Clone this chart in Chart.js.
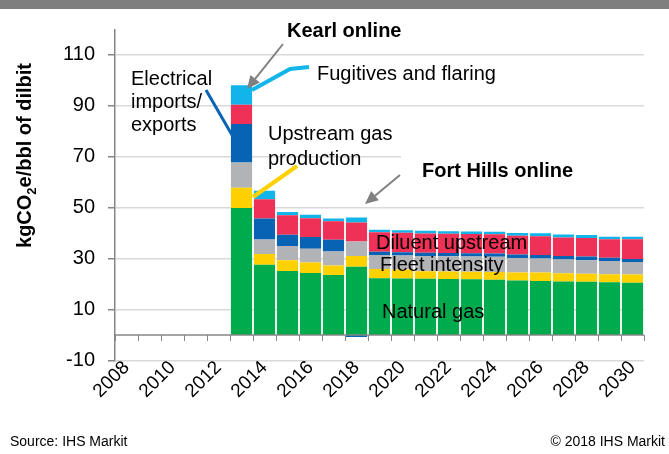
<!DOCTYPE html>
<html>
<head>
<meta charset="utf-8">
<script src="https://cdn.jsdelivr.net/npm/chart.js@4"></script>
<style>
  html,body{margin:0;padding:0;background:#fff;}
  #wrap{position:relative;width:669px;height:454px;}
</style>
</head>
<body>
<div id="wrap"><canvas id="c"></canvas></div>
<script>
// --- dados (kgCO2e/bbl de dilbit) ---
const years = ['2008','2009','2010','2011','2012','2013','2014','2015','2016','2017','2018','2019','2020','2021','2022','2023','2024','2025','2026','2027','2028','2029','2030'];
const yTicks = [-10, 10, 30, 50, 70, 90, 110];
const pre = [null, null, null, null, null];
const naturalGas  = pre.concat([49.9, 27.6, 25.2, 24.4, 23.6, 26.8, 22.3, 22.2, 22.1, 22.0, 21.9, 21.7, 21.4, 21.2, 21.0, 20.9, 20.7, 20.5]);
const upstreamGas = pre.concat([7.9, 4.2, 4.2, 4.1, 3.7, 4.2, 3.6, 3.5, 3.0, 3.0, 3.0, 3.1, 3.2, 3.4, 3.3, 3.2, 3.2, 3.3]);
const fleet       = pre.concat([10.0, 5.7, 5.6, 5.4, 5.5, 5.7, 5.5, 5.5, 5.9, 5.9, 5.9, 5.9, 5.7, 5.5, 5.4, 5.3, 5.2, 4.9]);
const electrical  = pre.concat([15.1, 8.3, 4.4, 4.6, 4.6, -0.8, 1.3, 1.3, 1.3, 1.3, 1.3, 1.3, 1.3, 1.3, 1.3, 1.4, 1.3, 1.2]);
const diluent     = pre.concat([7.5, 7.5, 7.6, 7.4, 7.3, 7.5, 7.7, 7.7, 7.6, 7.6, 7.6, 7.6, 7.4, 7.4, 7.3, 7.3, 7.2, 7.7]);
const fugitives   = pre.concat([7.7, 3.4, 1.3, 1.3, 1.1, 2.0, 1.0, 1.0, 1.1, 1.0, 1.0, 1.0, 1.1, 1.2, 1.2, 1.2, 1.0, 1.0]);

const C = {green:'#00AB4E', yellow:'#FFD100', gray:'#B1B3B6', blue:'#0863B5', red:'#EF3157', lblue:'#12B5EA'};
const FONT = '"Liberation Sans", Arial, sans-serif';

function arrow(ctx, x1, y1, x2, y2){
  ctx.strokeStyle = '#808080'; ctx.fillStyle = '#808080'; ctx.lineWidth = 2;
  const a = Math.atan2(y2-y1, x2-x1), L = 13, W = 6;
  const bx = x2 - L*Math.cos(a), by = y2 - L*Math.sin(a);
  ctx.beginPath(); ctx.moveTo(x1,y1); ctx.lineTo(bx,by); ctx.stroke();
  ctx.beginPath(); ctx.moveTo(x2,y2);
  ctx.lineTo(bx + W*Math.sin(a), by - W*Math.cos(a));
  ctx.lineTo(bx - W*Math.sin(a), by + W*Math.cos(a));
  ctx.closePath(); ctx.fill();
}
function line(ctx, pts, color, w){
  ctx.strokeStyle = color; ctx.lineWidth = w; ctx.lineJoin = 'miter';
  ctx.beginPath(); ctx.moveTo(pts[0][0], pts[0][1]);
  for (let i=1;i<pts.length;i++) ctx.lineTo(pts[i][0], pts[i][1]);
  ctx.stroke();
}
function txt(ctx, s, x, y, size, bold, align){
  ctx.font = (bold?'bold ':'') + size + 'px ' + FONT;
  ctx.fillStyle = '#000'; ctx.textAlign = align || 'left'; ctx.textBaseline = 'alphabetic';
  ctx.fillText(s, x, y);
}

const extras = {
  id:'extras',
  beforeDraw(chart){
    const ctx = chart.ctx;
    ctx.save(); ctx.fillStyle = '#7F7F7F'; ctx.fillRect(0,0,chart.width,9); ctx.restore();
  },
  afterDatasetsDraw(chart){
    const ctx = chart.ctx, xs = chart.scales.x, ys = chart.scales.y, a = chart.chartArea;
    const y0 = ys.getPixelForValue(0);
    ctx.save();
    ctx.strokeStyle = '#868686'; ctx.lineWidth = 1.5;
    ctx.beginPath(); ctx.moveTo(a.left, y0); ctx.lineTo(a.right, y0); ctx.stroke();
    ctx.lineWidth = 1;
    for (let i=0;i<=years.length;i++){
      const x = Math.round(xs.getPixelForValue(i-0.5)) + 0.5;
      ctx.beginPath(); ctx.moveTo(x, y0); ctx.lineTo(x, y0+6); ctx.stroke();
    }
    ctx.restore();
  },
  afterDraw(chart){
    const ctx = chart.ctx;
    ctx.save();
    // caixa branca atrás do texto Fort Hills
    ctx.fillStyle = '#fff'; ctx.fillRect(401,148,246,45);

    // linhas de chamada
    line(ctx, [[252,90],[290,69],[309,67]], C.lblue, 4);
    line(ctx, [[206,90],[232,135]], C.blue, 3);
    line(ctx, [[253,197],[297,166]], C.yellow, 4);
    arrow(ctx, 283, 44, 247, 89);
    arrow(ctx, 400, 175, 365, 204);

    txt(ctx, 'Kearl online', 287, 37, 20, true);
    txt(ctx, 'Fort Hills online', 422, 177, 20, true);
    txt(ctx, 'Fugitives and flaring', 317, 80, 20);
    txt(ctx, 'Electrical', 131, 85, 20);
    txt(ctx, 'imports/', 131, 108, 20);
    txt(ctx, 'exports', 131, 131, 20);
    txt(ctx, 'Upstream gas', 268, 140, 20);
    txt(ctx, 'production', 268, 165, 20);
    txt(ctx, 'Diluent upstream', 376, 249, 20);
    txt(ctx, 'Fleet intensity', 380, 271, 20);
    txt(ctx, 'Natural gas', 382, 318, 20);

    // título do eixo y com subscrito
    ctx.translate(31, 155.5); ctx.rotate(-Math.PI/2);
    const big = 'bold 20px ' + FONT, small = 'bold 13px ' + FONT;
    ctx.font = big; const w1 = ctx.measureText('kgCO').width, w3 = ctx.measureText('e/bbl of dilbit').width;
    ctx.font = small; const w2 = ctx.measureText('2').width;
    let x = -(w1+w2+w3)/2;
    ctx.fillStyle = '#000'; ctx.textAlign = 'left'; ctx.textBaseline = 'alphabetic';
    ctx.font = big; ctx.fillText('kgCO', x, 0); x += w1;
    ctx.font = small; ctx.fillText('2', x, 5); x += w2;
    ctx.font = big; ctx.fillText('e/bbl of dilbit', x, 0);
    ctx.restore();

    ctx.save();
    txt(ctx, 'Source: IHS Markit', 10, 446, 14);
    txt(ctx, '\u00A9 2018 IHS Markit', 665, 446, 14, false, 'right');
    ctx.restore();
  }
};

function ds(label, data, color){
  return {label, data, backgroundColor: color, borderWidth: 0, barPercentage: 0.92, categoryPercentage: 1.0};
}

new Chart(document.getElementById('c'), {
  type: 'bar',
  data: {
    labels: years,
    datasets: [
      ds('Natural gas', naturalGas, C.green),
      ds('Upstream gas production', upstreamGas, C.yellow),
      ds('Fleet intensity', fleet, C.gray),
      ds('Electrical imports/exports', electrical, C.blue),
      ds('Diluent upstream', diluent, C.red),
      ds('Fugitives and flaring', fugitives, C.lblue)
    ]
  },
  options: {
    responsive: true, maintainAspectRatio: false, animation: false, devicePixelRatio: 1,
    layout: {padding: {top: 29.5, right: 25, bottom: 0, left: 0}},
    plugins: {legend: {display: false}, tooltip: {enabled: false}},
    scales: {
      x: {
        stacked: true,
        grid: {display: false, drawTicks: false},
        border: {display: false},
        ticks: {
          autoSkip: false, maxRotation: 45, minRotation: 45, padding: -4,
          color: '#000', font: {family: FONT, size: 19},
          callback: (v, i) => i % 2 === 0 ? years[i] : ''
        },
        afterFit: s => { s.height = 93.5; }
      },
      y: {
        stacked: true, min: -10, max: 120,
        afterBuildTicks: s => { s.ticks = yTicks.map(v => ({value: v})); },
        afterFit: s => { s.width = 115; },
        grid: {color: '#D9D9D9', lineWidth: 1.5, tickLength: 7, tickColor: '#868686'},
        border: {color: '#868686', width: 1.5},
        ticks: {color: '#000', padding: 13, font: {family: FONT, size: 20}}
      }
    }
  },
  plugins: [extras]
});
</script>
</body>
</html>
